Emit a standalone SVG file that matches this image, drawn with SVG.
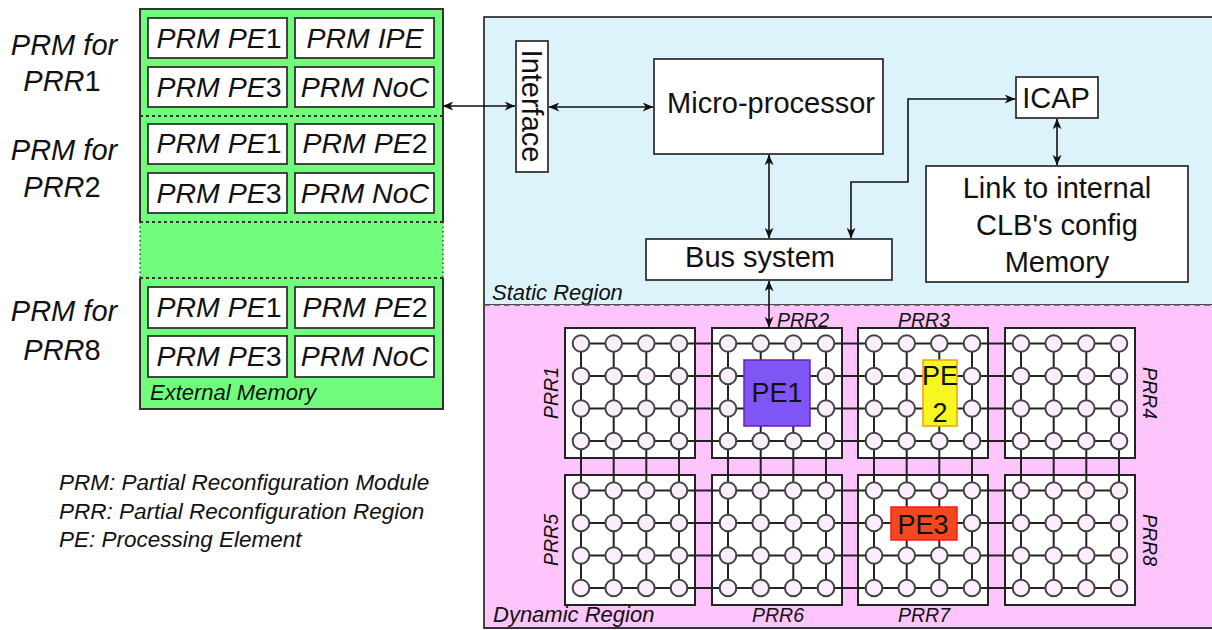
<svg xmlns="http://www.w3.org/2000/svg" width="1212" height="630" viewBox="0 0 1212 630">
<defs>
<style>
text{font-family:"Liberation Sans",Arial,sans-serif;fill:#111}
.it{font-style:italic}
.up{font-style:normal}
.box{fill:#fff;stroke:#333;stroke-width:1.8}
.mem{font-size:28.5px;font-style:italic;text-anchor:middle}
.lbl{font-size:29px;font-style:italic;text-anchor:middle}
.st{font-size:29px;text-anchor:middle}
.prr{font-size:19.5px;font-style:italic;text-anchor:middle}
.reg{font-size:22px;font-style:italic}
.leg{font-size:22.5px;font-style:italic}
.conn{fill:none;stroke:#111;stroke-width:1.6;marker-start:url(#ah);marker-end:url(#ah)}
.grid{fill:#fff;stroke:#222;stroke-width:2}
.gl{stroke:#222;stroke-width:2}
.nd{fill:#fdeefd;stroke:#444;stroke-width:2}
.pe{font-size:27px;text-anchor:middle}
</style>
<marker id="ah" viewBox="0 0 12 10" refX="11.5" refY="5" markerWidth="12" markerHeight="9" orient="auto-start-reverse" markerUnits="userSpaceOnUse">
<path d="M0,0 L12,5 L0,10 L3.5,5 z" fill="#111"/>
</marker>
<g id="noderow">
<circle class="nd" cx="16" cy="0" r="8.3"/>
<circle class="nd" cx="48.7" cy="0" r="8.3"/>
<circle class="nd" cx="81.3" cy="0" r="8.3"/>
<circle class="nd" cx="114" cy="0" r="8.3"/>
</g>
</defs>

<!-- Left labels -->
<g id="labels-left">
<text class="lbl" x="64" y="55">PRM for</text>
<text class="lbl" x="62" y="91">PRR<tspan class="up">1</tspan></text>
<text class="lbl" x="64" y="160">PRM for</text>
<text class="lbl" x="62" y="197">PRR<tspan class="up">2</tspan></text>
<text class="lbl" x="64" y="321">PRM for</text>
<text class="lbl" x="62" y="360">PRR<tspan class="up">8</tspan></text>
</g>

<!-- External Memory -->
<g id="external-memory">
<rect x="140" y="9" width="303" height="400" fill="#72fc7c"/>
<path d="M140,222 V9 H443 V222 M140,278 V409 H443 V278" fill="none" stroke="#333" stroke-width="2"/>
<path d="M140,222 V278 M443,222 V278" fill="none" stroke="#444" stroke-width="1.5" stroke-dasharray="1.5 3"/>
<path d="M140,116 H443 M140,222 H443 M140,278 H443" fill="none" stroke="#333" stroke-width="1.8" stroke-dasharray="3 3"/>
<rect class="box" x="148" y="18" width="139" height="40"/>
<rect class="box" x="295" y="18" width="139" height="40"/>
<rect class="box" x="148" y="67" width="139" height="40"/>
<rect class="box" x="295" y="67" width="139" height="40"/>
<rect class="box" x="148" y="124" width="139" height="40"/>
<rect class="box" x="295" y="124" width="139" height="40"/>
<rect class="box" x="148" y="173" width="139" height="40"/>
<rect class="box" x="295" y="173" width="139" height="40"/>
<rect class="box" x="148" y="287" width="139" height="41"/>
<rect class="box" x="295" y="287" width="139" height="41"/>
<rect class="box" x="148" y="336" width="139" height="41"/>
<rect class="box" x="295" y="336" width="139" height="41"/>
<text class="mem" x="219" y="48">PRM PE<tspan class="up">1</tspan></text>
<text class="mem" x="365" y="48">PRM IPE</text>
<text class="mem" x="219" y="97">PRM PE<tspan class="up">3</tspan></text>
<text class="mem" x="365" y="97">PRM NoC</text>
<text class="mem" x="219" y="153">PRM PE<tspan class="up">1</tspan></text>
<text class="mem" x="365" y="153">PRM PE<tspan class="up">2</tspan></text>
<text class="mem" x="219" y="203">PRM PE<tspan class="up">3</tspan></text>
<text class="mem" x="365" y="203">PRM NoC</text>
<text class="mem" x="219" y="317">PRM PE<tspan class="up">1</tspan></text>
<text class="mem" x="365" y="317">PRM PE<tspan class="up">2</tspan></text>
<text class="mem" x="219" y="366">PRM PE<tspan class="up">3</tspan></text>
<text class="mem" x="365" y="366">PRM NoC</text>
<text class="reg" x="150" y="400">External Memory</text>
</g>

<!-- Legend -->
<g id="legend">
<text class="leg" x="59" y="490">PRM: Partial Reconfiguration Module</text>
<text class="leg" x="59" y="519">PRR: Partial Reconfiguration Region</text>
<text class="leg" x="59" y="547">PE: Processing Element</text>
</g>

<!-- Static region -->
<g id="static-region">
<rect x="484" y="17" width="740" height="288" fill="#ddf3fb" stroke="#333" stroke-width="1.8"/>
<text class="reg" x="492" y="300">Static Region</text>
</g>

<!-- Dynamic region -->
<g id="dynamic-region">
<rect x="484" y="305" width="740" height="323" fill="#fdc5fc"/>
<path d="M484,305 V628 H1212" fill="none" stroke="#333" stroke-width="1.8"/>
<path d="M484,305 H1212" fill="none" stroke="#555" stroke-width="1.3" stroke-dasharray="6 4"/>
<text class="reg" x="493" y="622">Dynamic Region</text>
</g>

<g id="interface">
<rect class="box" x="516" y="41" width="32" height="131"/>
<text class="st" font-size="28" transform="translate(522,106) rotate(90)">Interface</text>
</g>
<g id="micro-processor">
<rect class="box" x="654" y="59" width="229" height="95"/>
<text class="st" x="771" y="113">Micro-processor</text>
</g>
<g id="bus-system">
<rect class="box" x="646" y="239" width="246" height="41"/>
<text class="st" x="760" y="267">Bus system</text>
</g>
<g id="icap">
<rect class="box" x="1016" y="77" width="82" height="41"/>
<text class="st" x="1056" y="108">ICAP</text>
</g>
<g id="link-config">
<rect class="box" x="926" y="166" width="262" height="116"/>
<text class="st" x="1057" y="198">Link to internal</text>
<text class="st" x="1057" y="235">CLB's config</text>
<text class="st" x="1057" y="272">Memory</text>
</g>

<!-- NoC grid -->
<g id="noc-grid">
<rect class="grid" x="565" y="328" width="130" height="130"/>
<rect class="grid" x="712" y="328" width="130" height="130"/>
<rect class="grid" x="858" y="328" width="130" height="130"/>
<rect class="grid" x="1005" y="328" width="130" height="130"/>
<rect class="grid" x="565" y="475" width="130" height="130"/>
<rect class="grid" x="712" y="475" width="130" height="130"/>
<rect class="grid" x="858" y="475" width="130" height="130"/>
<rect class="grid" x="1005" y="475" width="130" height="130"/>
<path class="gl" d="M581,343.5 H1119 M581,376 H1119 M581,408.5 H1119 M581,441 H1119 M581,490.5 H1119 M581,523 H1119 M581,555.5 H1119 M581,588 H1119"/>
<path class="gl" d="M581,343.5 V588 M613.7,343.5 V588 M646.3,343.5 V588 M679,343.5 V588 M728,343.5 V588 M760.7,343.5 V588 M793.3,343.5 V588 M826,343.5 V588 M874,343.5 V588 M906.7,343.5 V588 M939.3,343.5 V588 M972,343.5 V588 M1021,343.5 V588 M1053.7,343.5 V588 M1086.3,343.5 V588 M1119,343.5 V588"/>
<use href="#noderow" x="565" y="343.5"/><use href="#noderow" x="565" y="376"/><use href="#noderow" x="565" y="408.5"/><use href="#noderow" x="565" y="441"/>
<use href="#noderow" x="712" y="343.5"/><use href="#noderow" x="712" y="376"/><use href="#noderow" x="712" y="408.5"/><use href="#noderow" x="712" y="441"/>
<use href="#noderow" x="858" y="343.5"/><use href="#noderow" x="858" y="376"/><use href="#noderow" x="858" y="408.5"/><use href="#noderow" x="858" y="441"/>
<use href="#noderow" x="1005" y="343.5"/><use href="#noderow" x="1005" y="376"/><use href="#noderow" x="1005" y="408.5"/><use href="#noderow" x="1005" y="441"/>
<use href="#noderow" x="565" y="490.5"/><use href="#noderow" x="565" y="523"/><use href="#noderow" x="565" y="555.5"/><use href="#noderow" x="565" y="588"/>
<use href="#noderow" x="712" y="490.5"/><use href="#noderow" x="712" y="523"/><use href="#noderow" x="712" y="555.5"/><use href="#noderow" x="712" y="588"/>
<use href="#noderow" x="858" y="490.5"/><use href="#noderow" x="858" y="523"/><use href="#noderow" x="858" y="555.5"/><use href="#noderow" x="858" y="588"/>
<use href="#noderow" x="1005" y="490.5"/><use href="#noderow" x="1005" y="523"/><use href="#noderow" x="1005" y="555.5"/><use href="#noderow" x="1005" y="588"/>
</g>

<g id="prr-labels">
<text class="prr" transform="translate(558,393) rotate(-90)">PRR1</text>
<text class="prr" transform="translate(558,540) rotate(-90)">PRR5</text>
<text class="prr" x="803" y="327">PRR2</text>
<text class="prr" x="924" y="327">PRR3</text>
<text class="prr" x="778" y="622">PRR6</text>
<text class="prr" x="924" y="622">PRR7</text>
<text class="prr" transform="translate(1143,393) rotate(90)">PRR4</text>
<text class="prr" transform="translate(1143,540) rotate(90)">PRR8</text>
</g>

<g id="pe1">
<rect x="744" y="360" width="66" height="66" fill="#8055f6" stroke="#6a20b0" stroke-width="1.5"/>
<text class="pe" x="777" y="402">PE1</text>
</g>
<g id="pe2">
<rect x="923" y="360" width="34" height="66" fill="#f6f622" stroke="#eea000" stroke-width="1.5"/>
<text class="pe" x="940" y="385">PE</text>
<text class="pe" x="940" y="422">2</text>
</g>
<g id="pe3">
<rect x="891" y="507" width="66" height="33" fill="#f2481f" stroke="#ff1a1a" stroke-width="1.5"/>
<text class="pe" font-size="29" x="923" y="534">PE3</text>
</g>

<!-- Connectors -->
<g id="connectors">
<path class="conn" d="M443,106 H515"/>
<path class="conn" d="M549,107 H653"/>
<path class="conn" d="M769,155 V238"/>
<path class="conn" d="M851,238 V182 H908 V99 H1015"/>
<path class="conn" d="M1057,119 V165"/>
<path class="conn" d="M769,281 V327"/>
</g>
</svg>
